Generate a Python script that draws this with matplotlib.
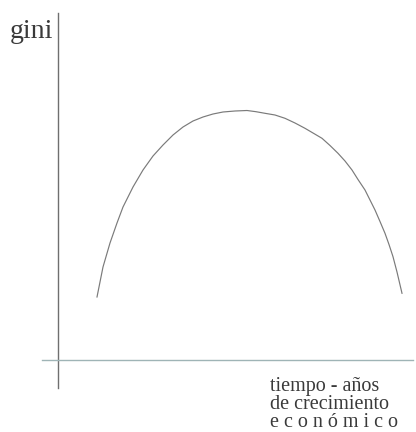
import matplotlib
matplotlib.use("Agg")
import matplotlib.pyplot as plt

# Data: time of economic growth (arbitrary units) vs gini (arbitrary units)
tiempo = [39, 45, 52, 59, 65, 75, 85, 95, 105, 115, 125, 135, 145, 155, 165,
          177, 189, 198, 207, 217, 227, 237, 247, 255, 264, 272, 280, 287,
          294, 300, 307, 312, 317, 322, 327, 331, 335, 339, 344]
gini = [63, 93, 117, 137, 153, 173, 190, 204, 215, 225, 233, 239, 243, 246,
        248, 249, 249.5, 248.3, 246.7, 245, 241.7, 237, 231.7, 227, 221.7,
        214.5, 206.7, 199, 190, 180.5, 170, 160, 150, 138.5, 126.7, 115.5,
        103.3, 88, 66.7]

y_label = "gini"
x_label_lines = ["tiempo - años", "de crecimiento", "e c o n ó m i c o"]

plt.rcParams['font.family'] = ['Liberation Serif', 'DejaVu Serif']

fig = plt.figure(figsize=(4.16, 4.32), dpi=100)
ax = fig.add_axes([0, 0, 1, 1])
ax.set_xlim(-58, 358)
ax.set_ylim(-72, 360)
ax.axis('off')

# axes lines
ax.plot([0, 0], [-28, 347], color='#6f6f6f', lw=1.0)
ax.plot([-16, 355], [0, 0], color='#9fb4b6', lw=1.0)

# curve
ax.plot(tiempo, gini, color='#7a7a7a', lw=0.85)

ax.text(-48, 322, y_label, fontsize=20, color='#3a3a3a', va='baseline', ha='left')
for i, line in enumerate(x_label_lines):
    ax.text(212, -31 - 18 * i, line, fontsize=14.5, color='#3a3a3a',
            va='baseline', ha='left')

fig.savefig("out.png", dpi=100, facecolor='white')
